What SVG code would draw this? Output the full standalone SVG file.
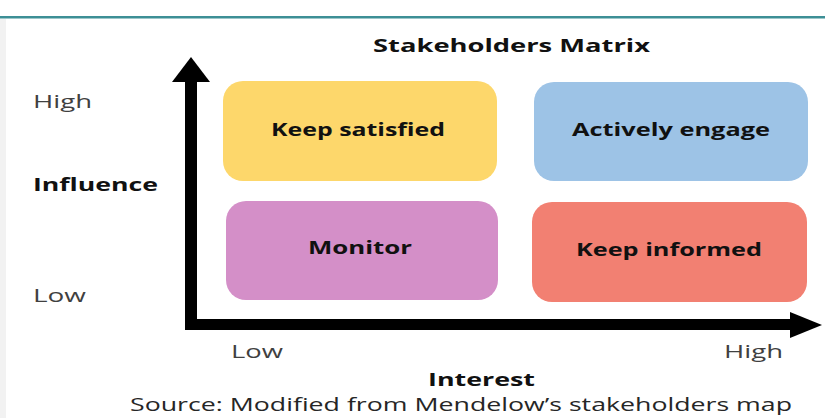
<svg xmlns="http://www.w3.org/2000/svg" width="825" height="418" viewBox="0 0 825 418">
<style>
.lbl{font-family:"Open Sans","Liberation Sans",sans-serif;font-size:18px;fill:#404040}
.b{font-family:"Open Sans","Liberation Sans",sans-serif;font-size:18px;font-weight:bold;fill:#111}
.box{stroke:none}
</style>
<rect x="0" y="0" width="825" height="418" fill="#ffffff"/>
<rect x="0" y="19" width="6" height="399" fill="#f2f2f2"/>
<rect x="0" y="16" width="825" height="2.5" fill="#3d8f96"/>
<text class="b" x="373" y="52" textLength="277" lengthAdjust="spacingAndGlyphs">Stakeholders Matrix</text>
<g id="node-keep-satisfied">
<rect class="box" x="223" y="81" width="274" height="100" rx="20" fill="#fdd76b"/>
<text class="b" x="358" y="136" text-anchor="middle" textLength="174" lengthAdjust="spacingAndGlyphs">Keep satisfied</text>
</g>
<g id="node-actively-engage">
<rect class="box" x="534" y="82" width="274" height="99" rx="20" fill="#9dc3e6"/>
<text class="b" x="671" y="136" text-anchor="middle" textLength="198" lengthAdjust="spacingAndGlyphs">Actively engage</text>
</g>
<g id="node-monitor">
<rect class="box" x="226" y="201" width="272" height="99" rx="20" fill="#d48fc8"/>
<text class="b" x="360" y="254" text-anchor="middle" textLength="104" lengthAdjust="spacingAndGlyphs">Monitor</text>
</g>
<g id="node-keep-informed">
<rect class="box" x="532" y="202" width="275" height="100" rx="20" fill="#f28072"/>
<text class="b" x="669" y="256" text-anchor="middle" textLength="186" lengthAdjust="spacingAndGlyphs">Keep informed</text>
</g>
<g id="connectors" fill="#000">
<rect x="185" y="80" width="12" height="250"/>
<polygon points="191,57 210,82 172,82"/>
<rect x="185" y="319" width="607" height="11"/>
<polygon points="822,325 790,312 790,338"/>
</g>
<text class="lbl" x="33" y="108" textLength="59" lengthAdjust="spacingAndGlyphs">High</text>
<text class="b" x="33" y="191" textLength="125" lengthAdjust="spacingAndGlyphs">Influence</text>
<text class="lbl" x="33" y="302" textLength="53" lengthAdjust="spacingAndGlyphs">Low</text>
<text class="lbl" x="231" y="358" textLength="52" lengthAdjust="spacingAndGlyphs">Low</text>
<text class="lbl" x="724" y="358" textLength="59" lengthAdjust="spacingAndGlyphs">High</text>
<text class="b" x="428" y="386" textLength="107" lengthAdjust="spacingAndGlyphs">Interest</text>
<text class="lbl" x="130" y="411" fill="#222" style="fill:#262626" textLength="662" lengthAdjust="spacingAndGlyphs">Source: Modified from Mendelow’s stakeholders map</text>
</svg>
